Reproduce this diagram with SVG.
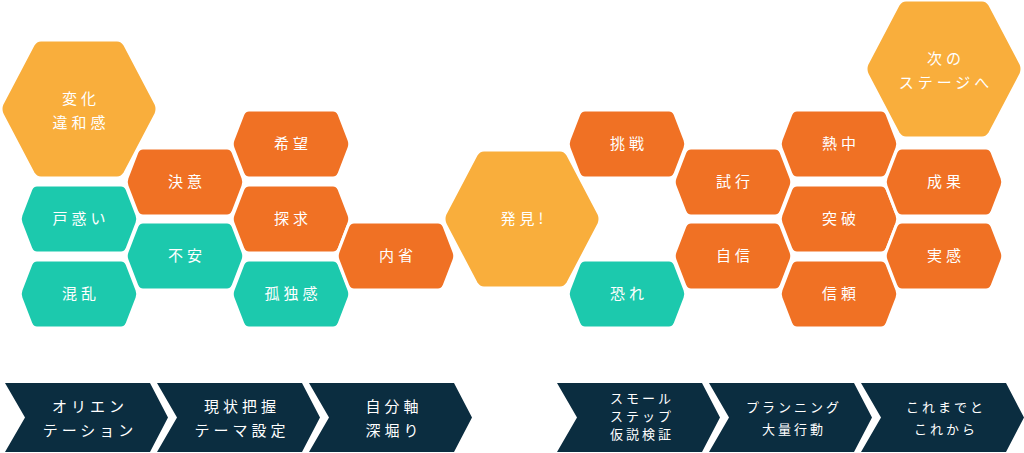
<svg xmlns="http://www.w3.org/2000/svg" width="1024" height="453" viewBox="0 0 1024 453">
<defs>
<path id="hs" d="M-42,-34 L42,-34 Q46,-34 48,-30 L58,-4 Q59.5,0 58,4 L48,30 Q46,34 42,34 L-42,34 Q-46,34 -48,30 L-58,4 Q-59.5,0 -58,-4 L-48,-30 Q-46,-34 -42,-34 Z"/>
<path id="hl" d="M-38,-69 L38,-69 Q43,-69 46,-64 L77,-5 Q79,0 77,5 L46,64 Q43,69 38,69 L-38,69 Q-43,69 -46,64 L-77,5 Q-79,0 -77,-5 L-46,-64 Q-43,-69 -38,-69 Z"/>
<path id="ch" d="M0,0 L145,0 L163,34.5 L145,69 L0,69 L20,34.5 Z"/>
</defs>
<style>
.o{fill:#F07124}.t{fill:#1CC9AD}.y{fill:#F9AE3C}.n{fill:#0B2D40}
.o,.t,.y{stroke:#fff;stroke-width:3}
text{font-family:"Noto Sans CJK JP",sans-serif;fill:#fff;font-size:15px;letter-spacing:4px;text-anchor:middle;font-weight:400}
.s{font-size:13px;letter-spacing:3px}
</style>
<g id="n1"><use href="#hl" class="y" x="79" y="109"/><text x="81" y="104">変化</text><text x="81" y="128">違和感</text></g>
<g id="n2"><use href="#hs" class="t" x="79" y="219"/><text x="81" y="224">戸惑い</text></g>
<g id="n3"><use href="#hs" class="t" x="79" y="294"/><text x="81" y="299">混乱</text></g>
<g id="n4"><use href="#hs" class="o" x="185" y="182"/><text x="187" y="187">決意</text></g>
<g id="n5"><use href="#hs" class="t" x="185" y="256"/><text x="187" y="261">不安</text></g>
<g id="n6"><use href="#hs" class="o" x="291" y="144"/><text x="293" y="149">希望</text></g>
<g id="n7"><use href="#hs" class="o" x="291" y="219"/><text x="293" y="224">探求</text></g>
<g id="n8"><use href="#hs" class="t" x="291" y="294"/><text x="293" y="299">孤独感</text></g>
<g id="n9"><use href="#hs" class="o" x="396" y="256"/><text x="398" y="261">内省</text></g>
<g id="n10"><use href="#hl" class="y" x="522" y="219"/><text x="524" y="224">発見!</text></g>
<g id="n11"><use href="#hs" class="o" x="627" y="144"/><text x="629" y="149">挑戦</text></g>
<g id="n12"><use href="#hs" class="t" x="627" y="294"/><text x="629" y="299">恐れ</text></g>
<g id="n13"><use href="#hs" class="o" x="733" y="182"/><text x="735" y="187">試行</text></g>
<g id="n14"><use href="#hs" class="o" x="733" y="256"/><text x="735" y="261">自信</text></g>
<g id="n15"><use href="#hs" class="o" x="839" y="144"/><text x="841" y="149">熱中</text></g>
<g id="n16"><use href="#hs" class="o" x="839" y="219"/><text x="841" y="224">突破</text></g>
<g id="n17"><use href="#hs" class="o" x="839" y="294"/><text x="841" y="299">信頼</text></g>
<g id="n18"><use href="#hs" class="o" x="944" y="182"/><text x="946" y="187">成果</text></g>
<g id="n19"><use href="#hs" class="o" x="944" y="256"/><text x="946" y="261">実感</text></g>
<g id="n20"><use href="#hl" class="y" x="944" y="69"/><text x="946" y="64">次の</text><text x="946" y="88">ステージへ</text></g>
<g id="c1"><use href="#ch" class="n" x="5" y="383"/><text x="90" y="412">オリエン</text><text x="90" y="436">テーション</text></g>
<g id="c2"><use href="#ch" class="n" x="157" y="383"/><text x="242" y="412">現状把握</text><text x="242" y="436">テーマ設定</text></g>
<g id="c3"><use href="#ch" class="n" x="309" y="383"/><text x="394" y="412">自分軸</text><text x="394" y="436">深堀り</text></g>
<g id="c4"><use href="#ch" class="n" x="557" y="383"/><text class="s" x="642" y="403">スモール</text><text class="s" x="642" y="421">ステップ</text><text class="s" x="642" y="439">仮説検証</text></g>
<g id="c5"><use href="#ch" class="n" x="709" y="383"/><text class="s" x="794" y="412">プランニング</text><text class="s" x="794" y="434">大量行動</text></g>
<g id="c6"><use href="#ch" class="n" x="861" y="383"/><text class="s" x="946" y="412">これまでと</text><text class="s" x="946" y="434">これから</text></g>
<g id="connectors"/>
</svg>
